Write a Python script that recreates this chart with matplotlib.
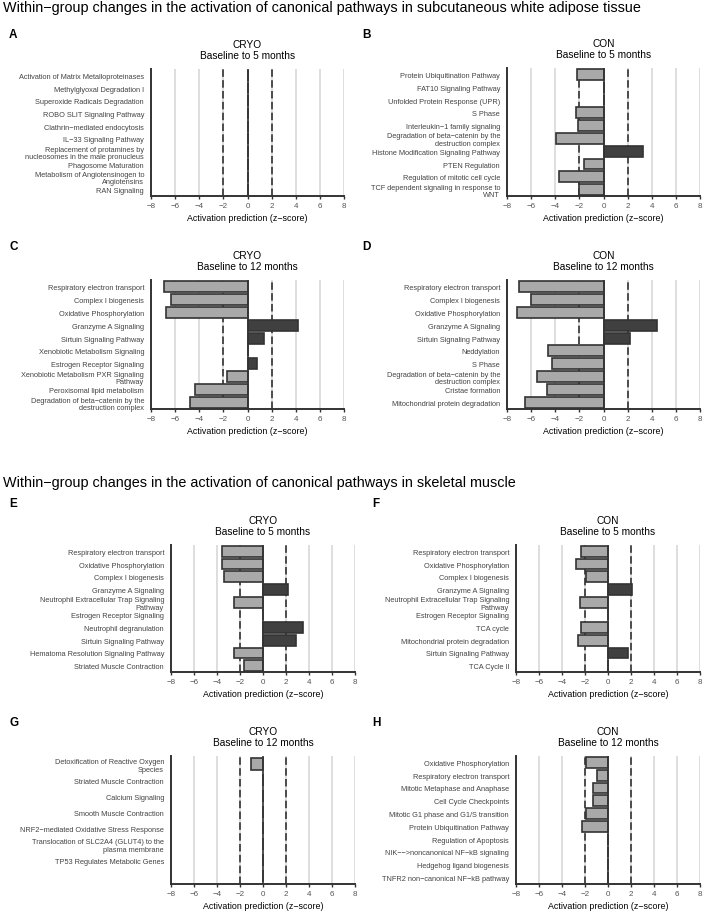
import numpy as np
import matplotlib
matplotlib.use("Agg")
import matplotlib.pyplot as plt

plt.rcParams['font.family'] = ['Liberation Sans', 'DejaVu Sans']
plt.rcParams['axes.unicode_minus'] = True

W, H = 709, 920
nan = np.nan

# ---- data (z-scores, nan = no bar) ----
labels_a = ["Activation of Matrix Metalloproteinases", "Methylglyoxal Degradation I",
            "Superoxide Radicals Degradation", "ROBO SLIT Signaling Pathway",
            "Clathrin−mediated endocytosis", "IL−33 Signaling Pathway",
            "Replacement of protamines by\nnucleosomes in the male pronucleus",
            "Phagosome Maturation", "Metabolism of Angiotensinogen to\nAngiotensins",
            "RAN Signaling"]
values_a = [nan, nan, nan, nan, nan, nan, nan, nan, nan, nan]

labels_b = ["Protein Ubiquitination Pathway", "FAT10 Signaling Pathway",
            "Unfolded Protein Response (UPR)", "S Phase", "Interleukin−1 family signaling",
            "Degradation of beta−catenin by the\ndestruction complex",
            "Histone Modification Signaling Pathway", "PTEN Regulation",
            "Regulation of mitotic cell cycle",
            "TCF dependent signaling in response to\nWNT"]
values_b = [-2.17, nan, nan, -2.28, -2.1, -3.9, 3.28, -1.64, -3.67, -2.0]

labels_c = ["Respiratory electron transport", "Complex I biogenesis",
            "Oxidative Phosphorylation", "Granzyme A Signaling", "Sirtuin Signaling Pathway",
            "Xenobiotic Metabolism Signaling", "Estrogen Receptor Signaling",
            "Xenobiotic Metabolism PXR Signaling\nPathway", "Peroxisomal lipid metabolism",
            "Degradation of beta−catenin by the\ndestruction complex"]
values_c = [-6.96, -6.35, -6.74, 4.2, 1.35, nan, 0.75, -1.68, -4.36, -4.8]

labels_d = ["Respiratory electron transport", "Complex I biogenesis",
            "Oxidative Phosphorylation", "Granzyme A Signaling", "Sirtuin Signaling Pathway",
            "Neddylation", "S Phase",
            "Degradation of beta−catenin by the\ndestruction complex", "Cristae formation",
            "Mitochondrial protein degradation"]
values_d = [-7.02, -5.97, -7.18, 4.42, 2.18, -4.64, -4.25, -5.55, -4.67, -6.49]

labels_e = ["Respiratory electron transport", "Oxidative Phosphorylation",
            "Complex I biogenesis", "Granzyme A Signaling",
            "Neutrophil Extracellular Trap Signaling\nPathway", "Estrogen Receptor Signaling",
            "Neutrophil degranulation", "Sirtuin Signaling Pathway",
            "Hematoma Resolution Signaling Pathway", "Striated Muscle Contraction"]
values_e = [-3.53, -3.53, -3.35, 2.14, -2.51, nan, 3.44, 2.86, -2.51, -1.62]

labels_f = ["Respiratory electron transport", "Oxidative Phosphorylation",
            "Complex I biogenesis", "Granzyme A Signaling",
            "Neutrophil Extracellular Trap Signaling\nPathway", "Estrogen Receptor Signaling",
            "TCA cycle", "Mitochondrial protein degradation", "Sirtuin Signaling Pathway",
            "TCA Cycle II"]
values_f = [-2.31, -2.8, -1.94, 2.08, -2.43, nan, -2.37, -2.63, 1.71, nan]

labels_g = ["Detoxification of Reactive Oxygen\nSpecies", "Striated Muscle Contraction",
            "Calcium Signaling", "Smooth Muscle Contraction",
            "NRF2−mediated Oxidative Stress Response",
            "Translocation of SLC2A4 (GLUT4) to the\nplasma membrane",
            "TP53 Regulates Metabolic Genes", ""]
values_g = [-1.01, nan, nan, nan, nan, nan, nan, nan]

labels_h = ["Oxidative Phosphorylation", "Respiratory electron transport",
            "Mitotic Metaphase and Anaphase", "Cell Cycle Checkpoints",
            "Mitotic G1 phase and G1/S transition", "Protein Ubiquitination Pathway",
            "Regulation of Apoptosis", "NIK−−>noncanonical NF−kB signaling",
            "Hedgehog ligand biogenesis", "TNFR2 non−canonical NF−kB pathway"]
values_h = [-1.94, -0.95, -1.33, -1.33, -1.94, -2.23, nan, nan, nan, nan]

xticks = [-8, -6, -4, -2, 0, 2, 4, 6, 8]

# panel: letter, group, period, labels, values, axes box in px (left, right, top, bottom), letter pos, bar height
panels = [
    ("A", "CRYO", "Baseline to 5 months", labels_a, values_a, (151, 344, 70, 197), (9, 35), 0.85),
    ("B", "CON", "Baseline to 5 months", labels_b, values_b, (507, 700, 69, 197), (362, 35), 0.85),
    ("C", "CRYO", "Baseline to 12 months", labels_c, values_c, (151, 344, 281, 410), (9, 247), 0.85),
    ("D", "CON", "Baseline to 12 months", labels_d, values_d, (507, 700, 281, 410), (362, 247), 0.85),
    ("E", "CRYO", "Baseline to 5 months", labels_e, values_e, (171, 355, 546, 673), (9, 504), 0.85),
    ("F", "CON", "Baseline to 5 months", labels_f, values_f, (516, 700, 546, 673), (372, 504), 0.85),
    ("G", "CRYO", "Baseline to 12 months", labels_g, values_g, (171, 355, 757, 885), (9, 723), 0.7),
    ("H", "CON", "Baseline to 12 months", labels_h, values_h, (516, 700, 757, 885), (372, 723), 0.85),
]

fig = plt.figure(figsize=(W / 100, H / 100), dpi=100)

def fx(x):
    return x / W

def fy(y):
    return 1 - y / H

fig.text(fx(3), fy(8), "Within−group changes in the activation of canonical pathways in subcutaneous white adipose tissue",
         fontsize=10.4, va="center", ha="left")
fig.text(fx(3), fy(483), "Within−group changes in the activation of canonical pathways in skeletal muscle",
         fontsize=10.4, va="center", ha="left")

dark = "#333333"
for letter, group, period, labels, values, box, lpos, bh in panels:
    l, r, t, b = box
    ax = fig.add_axes([fx(l), fy(b), (r - l) / W, (b - t) / H])
    n = len(labels)
    pos = np.arange(n)
    vals = np.array(values, dtype=float)
    cols = ["#404040" if v > 0 else "#a9a9a9" for v in np.nan_to_num(vals)]
    for x in xticks:
        if x == 0:
            continue
        ax.axvline(x, color="#d4d4d4", lw=1.1, zorder=0)
    for x in (-2, 2):
        ax.axvline(x, color=dark, lw=1.2, ls=(0, (4.5, 2)), zorder=1)
    ax.barh(pos, np.nan_to_num(vals), height=bh, color=cols, edgecolor=dark, linewidth=1.2, zorder=2)
    ax.axvline(0, color=dark, lw=1.2, zorder=3)
    ax.set_xlim(-8, 8)
    ax.set_ylim(n - 0.5, -0.5)
    ax.set_xticks(xticks)
    ax.set_xticklabels([str(x).replace("-", "−") for x in xticks])
    ax.set_yticks(pos)
    ax.set_yticklabels(labels, linespacing=1.1)
    ax.tick_params(axis="y", length=0, pad=5, labelsize=5.3, labelcolor="#444444")
    ax.tick_params(axis="x", length=2.5, width=1.0, color=dark, pad=1.5, labelsize=5.8, labelcolor="#555555")
    for s in ("top", "right"):
        ax.spines[s].set_visible(False)
    for s in ("left", "bottom"):
        ax.spines[s].set_color(dark)
        ax.spines[s].set_linewidth(1.4)
    ax.set_xlabel("Activation prediction (z−score)", fontsize=6.4, labelpad=3.5)
    cx = (l + r) / 2
    fig.text(fx(cx), fy(t - 25), group, fontsize=7.3, ha="center", va="center")
    fig.text(fx(cx), fy(t - 14), period, fontsize=7.3, ha="center", va="center")
    fig.text(fx(lpos[0]), fy(lpos[1]), letter, fontsize=8.5, fontweight="bold", ha="left", va="center")

fig.savefig("out.png", dpi=100)
